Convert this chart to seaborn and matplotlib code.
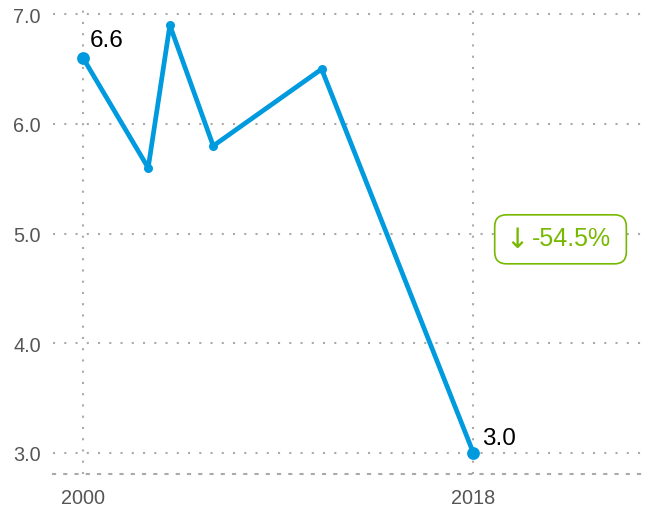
import pandas as pd
import matplotlib.pyplot as plt
from matplotlib.patches import FancyBboxPatch
import seaborn as sns

years = [2000, 2003, 2004, 2006, 2011, 2018]
values = [6.6, 5.6, 6.9, 5.8, 6.5, 3.0]
yticks = [3.0, 4.0, 5.0, 6.0, 7.0]
xticks = [2000, 2018]
change_arrow = "\u2193"
change_text = "-54.5%"

df = pd.DataFrame({"year": years, "value": values})

sns.set_style("white")
plt.rcParams["font.family"] = ["Liberation Sans", "DejaVu Sans"]

blue = "#009ade"
green = "#77b800"
grid = "#aaaaaa"
dots = (0, (1, 4.4))

fig = plt.figure(figsize=(6.49, 5.10), dpi=100)
ax = fig.add_axes([0.082, 0.069, 0.918, 0.915])

sns.lineplot(data=df, x="year", y="value", ax=ax, color=blue, linewidth=3.4,
             marker="o", markersize=6.5, markeredgewidth=0, zorder=3)
# bigger dots on first and last point
ends = df.iloc[[0, -1]]
sns.scatterplot(data=ends, x="year", y="value", ax=ax, color=blue, s=85,
                linewidth=0, zorder=4)

ax.set_xlim(1998.62, 2026.1)
ax.set_ylim(2.81, 7.065)
ax.set_xticks(xticks)
ax.set_yticks(yticks)
ax.set_xticklabels([str(x) for x in xticks])
ax.set_yticklabels([f"{y:.1f}" for y in yticks])
ax.tick_params(length=0, labelsize=14.3, labelcolor="#555555")
ax.tick_params(axis="y", pad=9)
ax.tick_params(axis="x", pad=10)
ax.set_xlabel("")
ax.set_ylabel("")

ax.grid(True, color=grid, linestyle=dots, linewidth=1.5)
for s in ["top", "right", "left"]:
    ax.spines[s].set_visible(False)
ax.spines["bottom"].set_color(grid)
ax.spines["bottom"].set_linestyle(dots)
ax.spines["bottom"].set_linewidth(1.5)

ax.annotate(f"{values[0]:.1f}", (years[0], values[0]), xytext=(5, 5),
            textcoords="offset points", fontsize=17.5, color="black",
            ha="left", va="bottom")
ax.annotate(f"{values[-1]:.1f}", (years[-1], values[-1]), xytext=(6, 3),
            textcoords="offset points", fontsize=17.5, color="black",
            ha="left", va="bottom")

# change badge (axes coords, aspect-corrected rounding)
bw, bh = 0.221, 0.105
box = FancyBboxPatch((0.741, 0.450), bw, bh,
                     boxstyle="round,pad=0,rounding_size=0.02",
                     mutation_aspect=596 / 467, transform=ax.transAxes,
                     fc="white", ec=green, lw=1.2, zorder=5)
ax.add_patch(box)
ax.text(0.778, 0.503, change_arrow, transform=ax.transAxes, color=green,
        fontsize=20, family="DejaVu Sans", ha="center", va="center", zorder=6)
ax.text(0.803, 0.506, change_text, transform=ax.transAxes, color=green,
        fontsize=18, ha="left", va="center", zorder=6)

fig.savefig("out.png", dpi=100)
